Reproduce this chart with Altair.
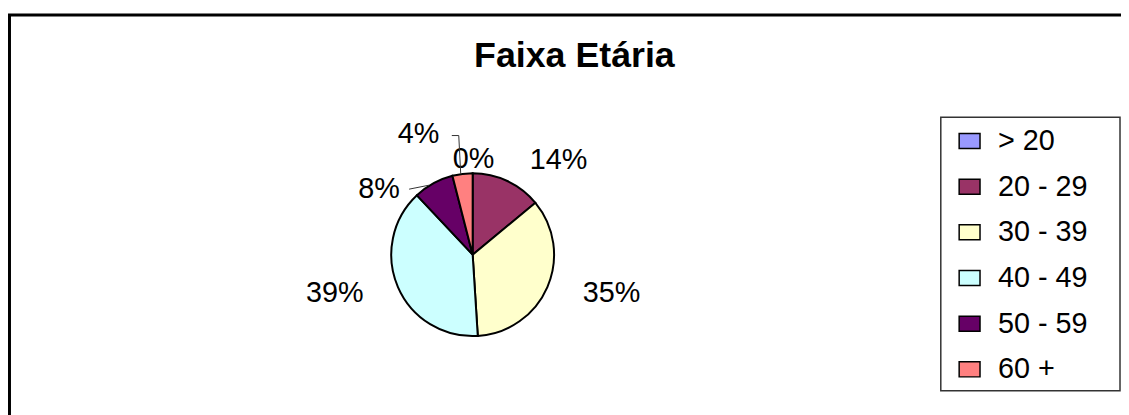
import altair as alt
import pandas as pd

# ---- data ----
categories = ["> 20", "20 - 29", "30 - 39", "40 - 49", "50 - 59", "60 +"]
percent = [0, 14, 35, 39, 8, 4]
labels = ["0%", "14%", "35%", "39%", "8%", "4%"]
colors = ["#9999FF", "#993366", "#FFFFCC", "#CCFFFF", "#660066", "#FF8080"]
title_text = "Faixa Etária"

df = pd.DataFrame({
    "faixa": categories,
    "pct": percent,
    "label": labels,
    "ordem": list(range(len(categories))),
})

# ---- layout (styles / positions, not data) ----
W, H = 1121, 407
CX, CY = 468, 247
R = 82
FONT = "Liberation Sans"
LABEL_R = 100
# per-label nudges (dx, dy) around a common label radius
nudges = {
    "> 20": (1, 4),
    "20 - 29": (44, -5),
    "30 - 39": (48, -1),
    "40 - 49": (-47, -1),
    "50 - 59": (-46, 22),
    "60 +": (-42, -22),
}

one = pd.DataFrame({"k": [0]})

frame = alt.Chart(one).mark_rect(
    fill="white", fillOpacity=0, stroke="black", strokeWidth=3
).encode(
    x=alt.value(1.5), y=alt.value(5.5), x2=alt.value(W + 20), y2=alt.value(H + 20)
)

legend_box = alt.Chart(one).mark_rect(
    fill="white", stroke="#333333", strokeWidth=1.5
).encode(
    x=alt.value(939.5), y=alt.value(108.5), x2=alt.value(1120), y2=alt.value(384)
)

base = alt.Chart(df).encode(
    theta=alt.Theta("pct:Q", stack=True),
    order=alt.Order("ordem:Q"),
)

pie = base.mark_arc(stroke="black", strokeWidth=2, radius=R).encode(
    x=alt.value(CX),
    y=alt.value(CY),
    color=alt.Color(
        "faixa:N",
        sort=categories,
        scale=alt.Scale(domain=categories, range=colors),
        legend=alt.Legend(
            title=None,
            orient="none",
            legendX=954,
            legendY=118,
            padding=0,
            symbolType="M-1,-0.72H1V0.72H-1Z",
            symbolSize=441,
            symbolStrokeColor="black",
            symbolStrokeWidth=1.5,
            labelFont=FONT,
            labelFontSize=29,
            labelColor="black",
            labelOffset=14,
            rowPadding=16,
            labelLimit=300,
        ),
    ),
)

texts = []
for cat in categories:
    ddx, ddy = nudges[cat]
    t = base.mark_text(
        radius=LABEL_R, dx=ddx, dy=ddy, font=FONT, fontSize=29,
        color="black", align="center", baseline="middle",
    ).encode(
        x=alt.value(CX),
        y=alt.value(CY),
        text=alt.condition(alt.datum.faixa == cat, "label:N", alt.value("")),
    )
    texts.append(t)

leader = alt.Chart(pd.DataFrame({
    "x1": [447, 454, 404], "y1": [127, 127, 181],
    "x2": [454, 456, 424], "y2": [127, 166, 177],
})).mark_rule(color="#333333", strokeWidth=1).encode(
    x=alt.X("x1:Q", scale=None), y=alt.Y("y1:Q", scale=None),
    x2="x2:Q", y2="y2:Q",
)

chart = alt.layer(frame, legend_box, pie, *texts, leader).properties(
    width=W,
    height=H,
    autosize=alt.AutoSizeParams(type="none"),
    padding=0,
    title=alt.TitleParams(
        text=title_text,
        font=FONT,
        fontSize=36,
        fontWeight="bold",
        color="black",
        anchor="middle",
        dx=10,
        dy=37,
        offset=-57,
        baseline="alphabetic",
    ),
).configure_view(stroke=None)

chart.save("out.html", embed_options={"renderer": "svg", "actions": False})
